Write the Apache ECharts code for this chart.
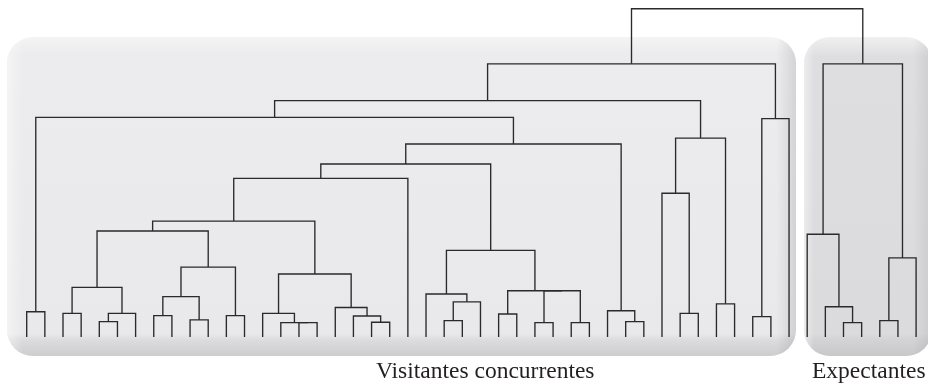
<!DOCTYPE html>
<html>
<head>
<meta charset="utf-8">
<script src="https://cdn.jsdelivr.net/npm/echarts@6/dist/echarts.min.js"></script>
<style>
  html, body { margin: 0; padding: 0; background: #ffffff; }
  #chart { width: 928px; height: 390px; }
</style>
</head>
<body>
<div id="chart"></div>
<script>
// Dendrogram of 50 observations, two groups.
const leafCount = 50;

// Linkage rows: [left, right, height]; ids < leafCount are leaves,
// id leafCount + k refers to the k-th row.
const mergeLeft = [
  0, 2, 4, 52, 51, 7, 9, 55, 11, 57, 54, 15, 14, 13, 19, 18, 17, 63, 60, 68,
  23, 70, 22, 26, 28, 30, 74, 73, 72, 69, 33, 32, 79, 50, 36, 35, 38, 85, 83, 40,
  89, 88, 45, 44, 43, 47, 95, 94, 91
];
const mergeRight = [
  1, 3, 5, 6, 53, 8, 10, 56, 12, 58, 59, 16, 61, 62, 20, 64, 65, 66, 67, 21,
  24, 25, 71, 27, 29, 31, 75, 76, 77, 78, 34, 80, 81, 82, 37, 84, 39, 86, 87, 41,
  42, 90, 46, 92, 93, 48, 49, 96, 97
];
const mergeHeight = [
  7.7, 7.2, 4.7, 7.2, 15.1, 6.5, 5.2, 12.3, 6.5, 21.3, 32.3, 4.4, 4.4, 7.2, 4.5, 6.4, 9.0, 19.2, 35.3, 48.3,
  5.0, 10.7, 13.1, 7.0, 4.4, 4.4, 14.1, 14.1, 26.4, 52.7, 4.7, 8.0, 58.8, 66.9, 7.2, 43.8, 10.1, 60.6, 72.0, 6.2,
  66.5, 83.2, 4.4, 9.2, 31.3, 5.0, 24.1, 83.2, 100
];

const groupNames = ['Visitantes concurrentes', 'Expectantes'];

// Node positions: leaves sit at their order index, internal nodes at the
// mean of their two children.
const nodeX = [];
const nodeH = [];
for (let i = 0; i < leafCount; i++) { nodeX.push(i); nodeH.push(0); }
const links = [];
for (let k = 0; k < mergeLeft.length; k++) {
  const a = mergeLeft[k], b = mergeRight[k], h = mergeHeight[k];
  links.push([nodeX[a], nodeH[a], nodeX[b], nodeH[b], h]);
  nodeX.push((nodeX[a] + nodeX[b]) / 2);
  nodeH.push(h);
}

const chart = echarts.init(document.getElementById('chart'), null, { renderer: 'canvas' });

function panelFill(stops) {
  return { type: 'linear', x: 0, y: 0, x2: 0, y2: 1, colorStops: stops };
}
function edgeFill(stops) {
  return { type: 'linear', x: 0, y: 0, x2: 1, y2: 0, colorStops: stops };
}

const leftPanel = { x: 7, y: 37, width: 789, height: 319, r: 26 };
const rightPanel = { x: 804, y: 37, width: 128, height: 319, r: 26 };

chart.setOption({
  animation: false,
  backgroundColor: '#ffffff',
  grid: { left: 26.7, right: 11.9, top: 8.7, bottom: 53 },
  xAxis: { type: 'value', min: 0, max: leafCount - 1, show: false },
  yAxis: { type: 'value', min: 0, max: 100, show: false },
  graphic: [
    // left tray
    { type: 'rect', z: -10, shape: leftPanel, silent: true,
      style: { fill: panelFill([
        { offset: 0, color: '#f4f4f5' }, { offset: 0.05, color: '#ececee' },
        { offset: 0.93, color: '#e9e9eb' }, { offset: 0.95, color: '#dcdcde' },
        { offset: 1, color: '#cdcdcf' }]) } },
    { type: 'rect', z: -9, shape: leftPanel, silent: true,
      style: { fill: edgeFill([
        { offset: 0, color: 'rgba(255,255,255,0.45)' }, { offset: 0.02, color: 'rgba(255,255,255,0)' },
        { offset: 0.975, color: 'rgba(0,0,0,0)' }, { offset: 1, color: 'rgba(0,0,0,0.10)' }]) } },
    // right tray
    { type: 'rect', z: -10, shape: rightPanel, silent: true,
      style: { fill: panelFill([
        { offset: 0, color: '#f0f0f1' }, { offset: 0.06, color: '#dedee0' },
        { offset: 0.93, color: '#dbdbdd' }, { offset: 0.95, color: '#d3d3d5' },
        { offset: 1, color: '#c8c8ca' }]) } },
    { type: 'rect', z: -9, shape: rightPanel, silent: true,
      style: { fill: edgeFill([
        { offset: 0, color: 'rgba(255,255,255,0.45)' }, { offset: 0.08, color: 'rgba(255,255,255,0)' },
        { offset: 0.85, color: 'rgba(0,0,0,0)' }, { offset: 1, color: 'rgba(0,0,0,0.08)' }]) } },
    // group captions
    { type: 'text', z: 5, left: 486 - 110, top: 360, silent: true,
      style: { text: groupNames[0], font: '23.5px "Liberation Serif", serif', fill: '#231f20' } },
    { type: 'text', z: 5, left: 866 - 54, top: 360, silent: true,
      style: { text: groupNames[1], font: '23.5px "Liberation Serif", serif', fill: '#231f20' } }
  ],
  series: [{
    type: 'custom',
    coordinateSystem: 'cartesian2d',
    clip: false,
    silent: true,
    encode: { x: [0, 2], y: [1, 3, 4] },
    data: links,
    renderItem: function (params, api) {
      const xl = api.value(0), hl = api.value(1), xr = api.value(2), hr = api.value(3), h = api.value(4);
      return {
        type: 'polyline',
        shape: { points: [api.coord([xl, hl]), api.coord([xl, h]), api.coord([xr, h]), api.coord([xr, hr])] },
        style: { stroke: '#2a2a2a', lineWidth: 1.35, fill: null }
      };
    }
  }]
});
</script>
</body>
</html>
